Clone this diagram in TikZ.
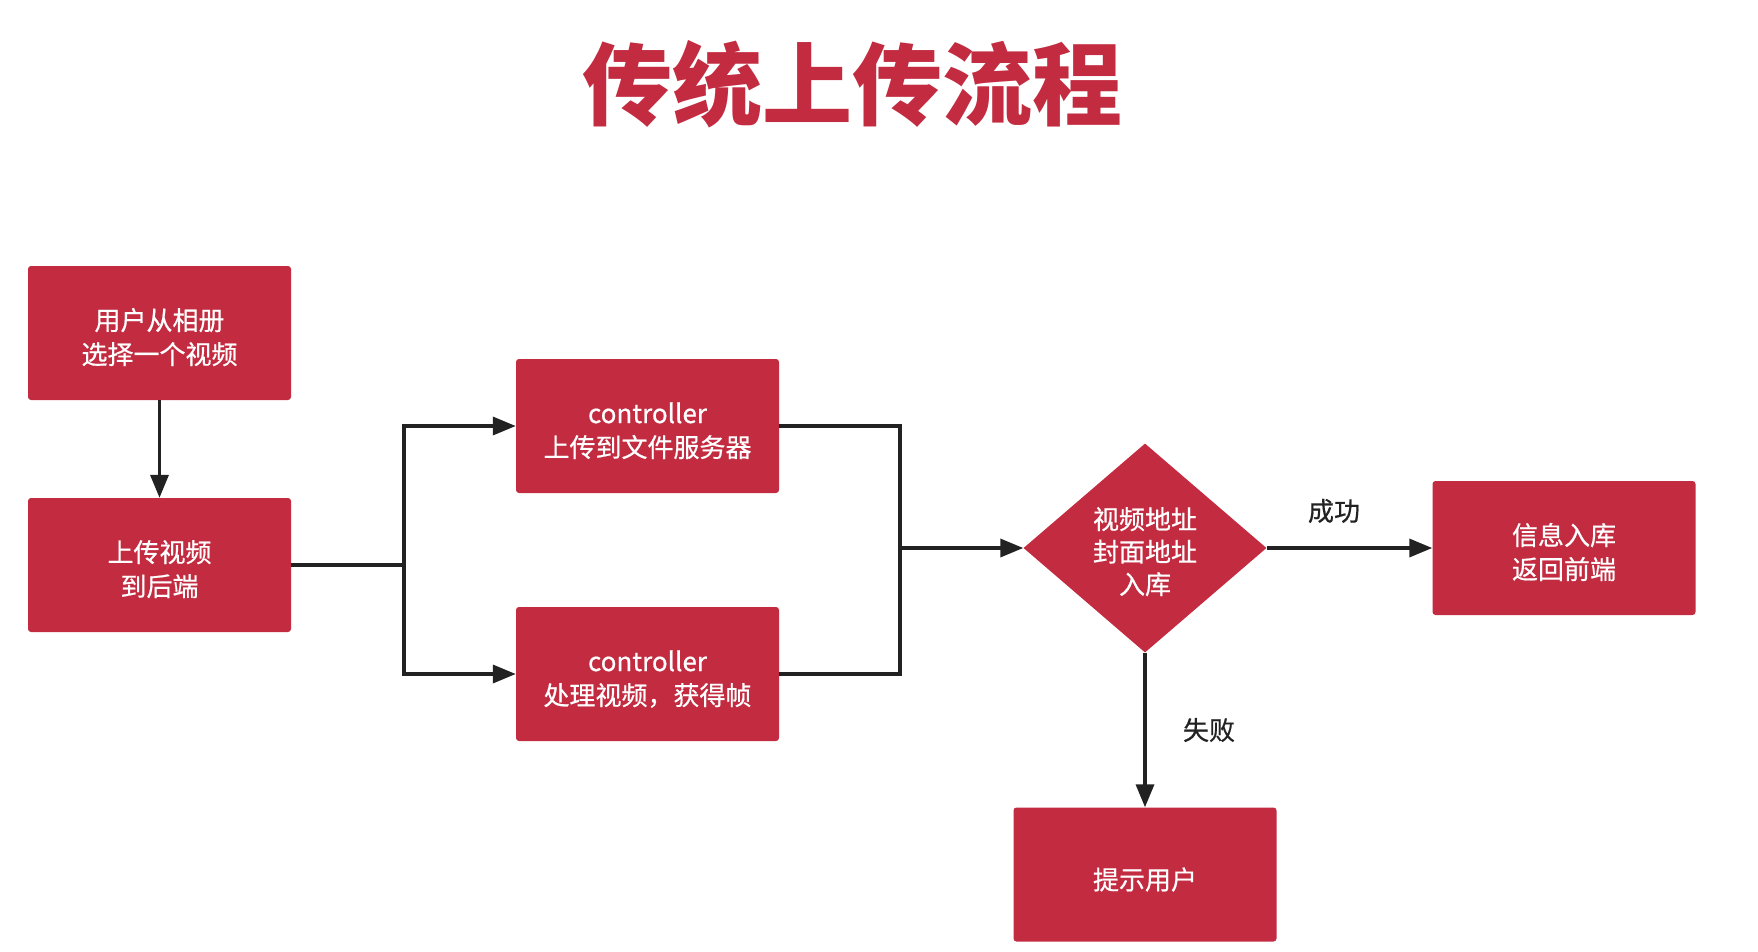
\documentclass[tikz,border=0pt]{standalone}
\usepackage{fontspec}
\setmainfont{Noto Sans CJK SC}
\newfontfamily\boxfont[FakeBold=0.6]{Noto Sans CJK SC}
\usetikzlibrary{arrows.meta,shapes.geometric}
\definecolor{boxred}{HTML}{C22B40}
\definecolor{linegray}{HTML}{222222}
\begin{document}
\begin{tikzpicture}[x=1pt,y=-1pt,
  box/.style={fill=boxred, rounded corners=3pt, minimum width=263pt, minimum height=134pt,
    text=white, font=\boxfont\fontsize{26}{34}\selectfont, align=center, inner sep=0pt,
    execute at begin node=\rule{0pt}{32pt}},
  mbox/.style={fill=boxred, rounded corners=3pt, minimum width=263pt, minimum height=134pt,
    text=white, font=\boxfont\fontsize{26}{34}\selectfont, align=center, inner sep=0pt,
    text height=68pt, text depth=6pt},
  dec/.style={diamond, fill=boxred, minimum width=243pt, minimum height=209pt,
    text=white, font=\boxfont\fontsize{26}{32.5}\selectfont, align=center, inner sep=0pt,
    text height=98pt, text depth=6pt},
  conn/.style={draw=linegray, line width=3.5pt},
  arr/.style={conn, -{Triangle[length=23pt,width=18pt]}},
  lbl/.style={text=linegray, font=\boxfont\fontsize{26}{30}\selectfont}]
\useasboundingbox (0,0) rectangle (1758,951);
\node[text=boxred, font=\fontsize{90}{90}\bfseries] (title) at (852,84) {传统上传流程};
\node[mbox] (b1) at (159.5,333) {用户从相册\\选择一个视频};
\node[mbox] (b2) at (159.5,565) {上传视频\\到后端};
\node[mbox] (b3) at (647.5,426) {controller\\上传到文件服务器};
\node[mbox] (b4) at (647.5,674) {controller\\处理视频，获得帧};
\node[dec] (dia) at (1145,548) {视频地址\\封面地址\\入库};
\node[mbox] (b5) at (1564,548) {信息入库\\返回前端};
\node[box] (b6) at (1145,874.5) {提示用户};
\coordinate (split) at (404,565);
\coordinate (merge) at (900,548);
\draw[arr] (b1) -- (b2);
\draw[conn] (b2.east) -- (split);
\draw[arr] (split) |- (b3.west);
\draw[arr] (split) |- (b4.west);
\draw[conn] (b3.east) -| (merge);
\draw[conn] (b4.east) -| (merge);
\draw[arr] (merge) -- (dia.west);
\draw[arr] (dia.east) -- (b5.west);
\draw[arr] (dia.south) -- (b6.north);
\node[lbl] (ok) at (1334,511) {成功};
\node[lbl] (fail) at (1209,730) {失败};
\end{tikzpicture}
\end{document}
